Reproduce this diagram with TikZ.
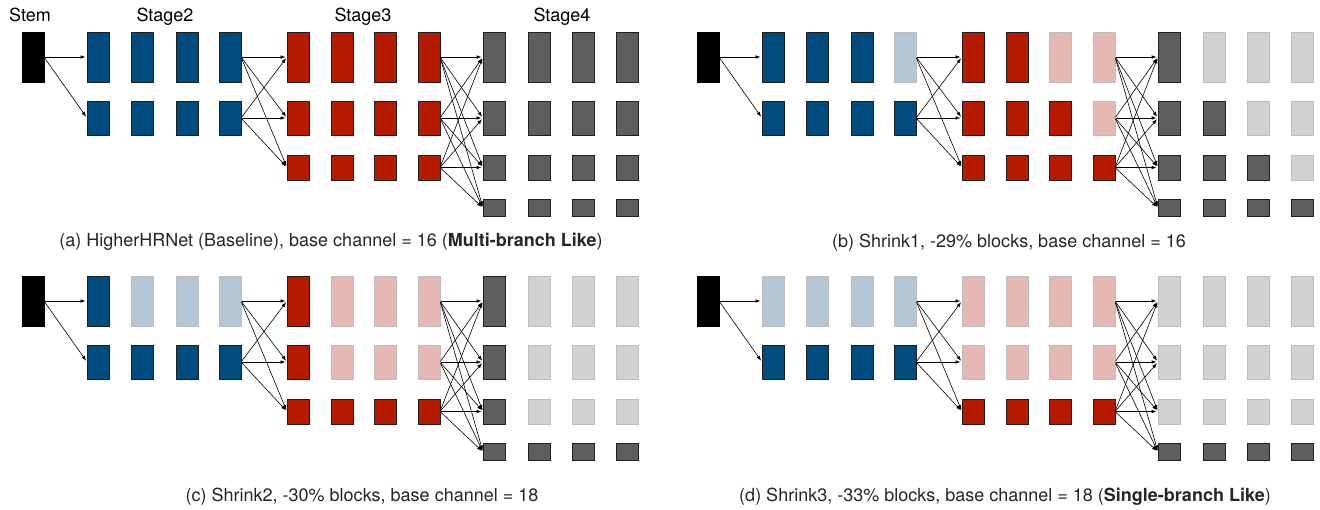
\documentclass[tikz,border=0pt]{standalone}
\usepackage{fontspec}
\setmainfont{TeX Gyre Heros}
\usetikzlibrary{arrows.meta}
\definecolor{blueD}{HTML}{004C7F}
\definecolor{blueL}{HTML}{B3C7D7}
\definecolor{redD}{HTML}{B41A00}
\definecolor{redL}{HTML}{E6B8B3}
\definecolor{grayD}{HTML}{5E5E5E}
\definecolor{grayL}{HTML}{D1D1D1}
\definecolor{edgeD}{HTML}{202020}
\definecolor{edgeL}{HTML}{BDBDBD}
\tikzset{
  blk/.style={line width=0.8pt, inner sep=0pt, outer sep=0pt, minimum width=22pt},
  arr/.style={-{Latex[length=5pt,width=3.6pt]}, line width=0.6pt, black, shorten >=1.5pt, shorten <=1pt},
  lab/.style={font=\fontsize{18}{20}\selectfont, inner sep=0pt, anchor=base},
  captext/.style={font=\fontsize{18}{20}\selectfont, inner sep=0pt, anchor=base, text=black!85},
}
\newcommand\stagerow[6]{% #1 panel, #2 stage, #3 dark colour, #4 light colour, #5 list of dark counts, #6 column centres
  \foreach \k [count=\r] in {#5} {
    \foreach \x [count=\c] in {#6} {
      \ifnum\c>\k \def\fc{#4}\def\dc{edgeL}\else\def\fc{#3}\def\dc{edgeD}\fi
      \pgfmathsetmacro\hh{{50,34,25,17}[\r-1]}
      \pgfmathsetmacro\yy{{57,118,167.5,208}[\r-1]}
      \node[blk, fill=\fc, draw=\dc, minimum height=\hh pt] (#1-#2-\r-\c) at (\x,\yy) {};
    }
  }
}
\newcommand\drawpanel[6]{% #1 name, #2 dx, #3 dy, #4 stage2, #5 stage3, #6 stage4
  \begin{scope}[shift={(#2,#3)}]
    \node[blk, fill=black, draw=black, minimum height=50pt] (#1-stem) at (33,57) {};
    \stagerow{#1}{s2}{blueD}{blueL}{#4}{98,142,187,230}
    \stagerow{#1}{s3}{redD}{redL}{#5}{298,342,385,429}
    \stagerow{#1}{s4}{grayD}{grayL}{#6}{494,539,583,627}
    \draw[arr] (#1-stem.east) -- (#1-s2-1-1.west);
    \draw[arr] (#1-stem.east) -- (#1-s2-2-1.west);
    \foreach \i in {1,2} \foreach \j in {1,2,3}
      \draw[arr] (#1-s2-\i-4.east) -- (#1-s3-\j-1.west);
    \foreach \i in {1,2,3} \foreach \j in {1,2,3,4}
      \draw[arr] (#1-s3-\i-4.east) -- (#1-s4-\j-1.west);
  \end{scope}
}
\begin{document}
\begin{tikzpicture}[x=1pt, y=-1pt]
  \useasboundingbox[fill=white] (0,0) rectangle (1320,509);
  \drawpanel{a}{0}{0}{4,4}{4,4,4}{4,4,4,4}
  \drawpanel{b}{675}{0}{3,4}{2,3,4}{1,2,3,4}
  \drawpanel{c}{0}{244}{1,4}{1,1,4}{1,1,1,4}
  \drawpanel{d}{675}{244}{0,4}{0,0,4}{0,0,0,4}
  \node[lab] (lstem) at (30,21) {Stem};
  \node[lab] (lstage2) at (165,21) {Stage2};
  \node[lab] (lstage3) at (363,21) {Stage3};
  \node[lab] (lstage4) at (562,21) {Stage4};
  \node[captext] (capa) at (331,246) {(a) HigherHRNet (Baseline), base channel = 16 (\textbf{Multi-branch Like})};
  \node[captext] (capb) at (1009,247) {(b) Shrink1, -29\% blocks, base channel = 16};
  \node[captext] (capc) at (362,501) {(c) Shrink2, -30\% blocks, base channel = 18};
  \node[captext] (capd) at (1005,501) {(d) Shrink3, -33\% blocks, base channel = 18 (\textbf{Single-branch Like})};
\end{tikzpicture}
\end{document}
